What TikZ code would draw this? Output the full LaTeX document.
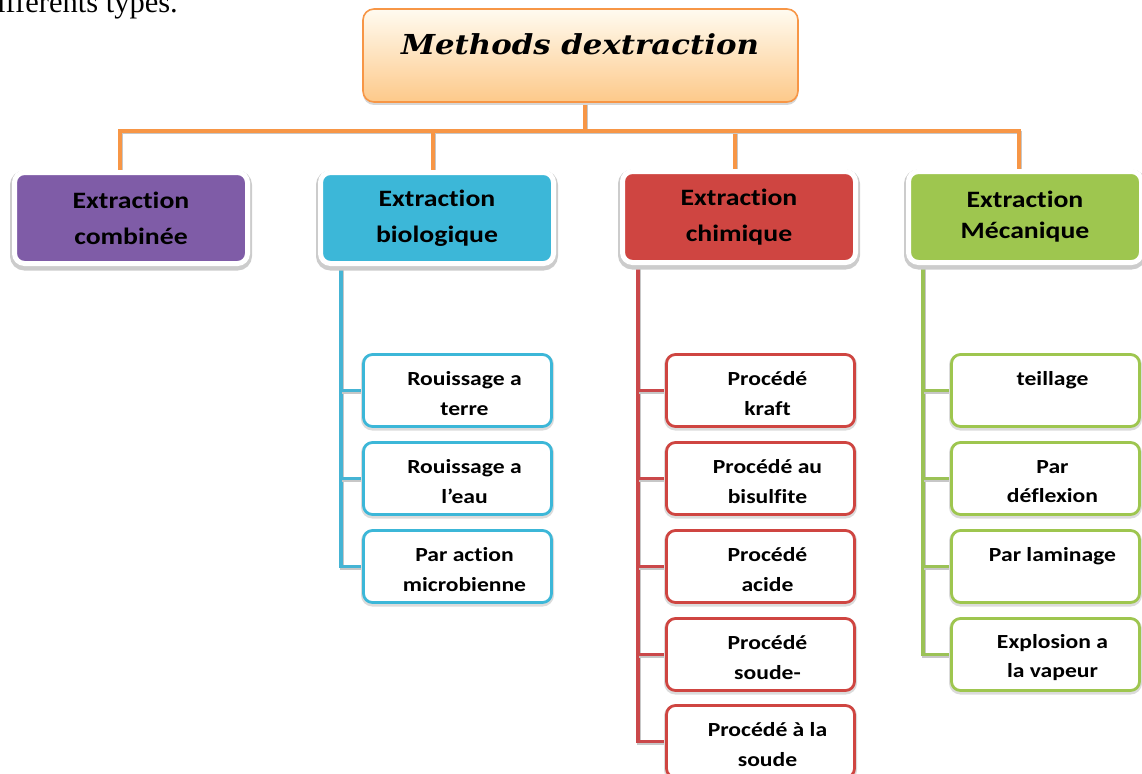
\documentclass[tikz,border=0pt]{standalone}
\usepackage{fontspec}
\setmainfont{Carlito}
\newfontfamily\titlefont[FakeStretch=1.12]{DejaVu Serif}
\newfontfamily\introfont{Liberation Serif}
\newfontfamily\boxfont[FakeStretch=1.18, Ligatures=NoCommon]{Carlito}
\usetikzlibrary{backgrounds}

\definecolor{hubline}{HTML}{F79646}
\definecolor{creamT}{HTML}{FFFBF0}
\definecolor{creamB}{HTML}{FDC98A}
\definecolor{purpleF}{HTML}{7F5CA7}
\definecolor{cyanF}{HTML}{3CB7D8}
\definecolor{redF}{HTML}{CF4541}
\definecolor{greenF}{HTML}{9EC64F}
\definecolor{cyanL}{HTML}{45B4D4}
\definecolor{redL}{HTML}{CA484A}
\definecolor{greenL}{HTML}{9BC256}

\tikzset{
  rootbox/.style={rounded corners=11pt, draw=hubline, line width=1.6pt,
    top color=creamT, bottom color=creamB, minimum width=435pt,
    minimum height=93pt, inner sep=0pt,
    preaction={fill=black!16, transform canvas={yshift=-3pt}}},
  catbox/.style={rounded corners=10pt, fill=#1, draw=white, line width=5pt,
    minimum width=233pt, minimum height=91pt, inner sep=0pt, align=center,
    font=\boxfont\bfseries\fontsize{23.5}{36}\selectfont,
    preaction={draw=black!20, line width=9pt, transform canvas={yshift=-2.5pt}}},
  leafbox/.style={rounded corners=9pt, fill=white, draw=#1, line width=2.8pt,
    minimum width=188pt, minimum height=72pt, inner sep=0pt,
    preaction={draw=black!14, line width=5pt, transform canvas={yshift=-1.5pt}}},
  leaftext/.style={inner sep=0pt, align=center,
    font=\boxfont\bfseries\fontsize{20}{29.5}\selectfont},
  link/.style={draw=#1, line width=3.4pt,
    preaction={draw=black!22, line width=3.4pt, transform canvas={shift={(1pt,-1.5pt)}}}},
}

% one child box with its label, the label set slightly right of centre
\newcommand\leaf[5]{%
  \node[leafbox=#2] (#1) at (#3,#4) {};
  \node[leaftext] (#1t) at ([xshift=7pt,yshift=-3pt]#1.center) {#5};}

\begin{document}
\begin{tikzpicture}[x=1pt,y=-1pt]
\useasboundingbox (0,0) rectangle (1142,773);
\clip (0,0) rectangle (1142,773);

% end of the preceding sentence
\node[font=\introfont\fontsize{30.5}{32}\selectfont, anchor=base east, inner sep=0pt]
  (intro) at (178,13) {différents types.};

% root
\node[rootbox] (root) at (580.5,55.5) {};
\node[font=\titlefont\bfseries\itshape\fontsize{27.5}{30}\selectfont, anchor=base, inner sep=0pt]
  (roottext) at (580,55) {Methods dextraction};

% categories
\node[catbox=purpleF] (comb) at (131,218) {Extraction\\combinée};
\node[catbox=cyanF]   (bio)  at (437,218) {Extraction\\biologique};
\node[catbox=redF]    (chim) at (739,217) {Extraction\\chimique};
\node[catbox=greenF, font=\boxfont\bfseries\fontsize{23.5}{31}\selectfont]
  (meca) at (1025,217) {Extraction\\Mécanique};

% biological methods
\leaf{b1}{cyanF}{457.5}{390.5}{Rouissage a\\terre}
\leaf{b2}{cyanF}{457.5}{478.5}{Rouissage a\\l’eau}
\leaf{b3}{cyanF}{457.5}{566.5}{Par action\\microbienne}

% chemical methods
\leaf{k1}{redF}{760.5}{390.5}{Procédé\\kraft}
\leaf{k2}{redF}{760.5}{478.5}{Procédé au\\bisulfite}
\leaf{k3}{redF}{760.5}{566.5}{Procédé\\acide}
\leaf{k4}{redF}{760.5}{654.5}{Procédé\\soude-}
\leaf{k5}{redF}{760.5}{741.5}{Procédé à la\\soude}

% mechanical methods
\leaf{m1}{greenF}{1045.5}{390.5}{teillage\\\mbox{}}
\leaf{m2}{greenF}{1045.5}{478.5}{Par\\déflexion}
\leaf{m3}{greenF}{1045.5}{566.5}{Par laminage\\\mbox{}}
\node[leafbox=greenF] (m4) at (1045.5,654.5) {};
\begin{scope}
  \clip (950,617) rectangle (1142,680);
  \node[leaftext] (m4t) at ([xshift=7pt,yshift=-3pt]m4.center) {Explosion a\\la vapeur};
\end{scope}

% connectors
\begin{scope}[on background layer]
  \coordinate (hub) at (585,131);
  \draw[link=hubline] ([xshift=4.5pt]root.south) -- (hub);
  \draw[link=hubline] (hub) -| ([xshift=-11pt]comb.north);
  \draw[link=hubline] (hub) -| ([xshift=-4pt]bio.north);
  \draw[link=hubline] (hub) -| ([xshift=-4pt]chim.north);
  \draw[link=hubline] (hub) -| ([xshift=-6pt]meca.north);

  \coordinate (bt) at (341,262);
  \draw[link=cyanL] (bt) |- (b3.west);
  \draw[link=cyanL] (bt |- b1.west) -- (b1.west);
  \draw[link=cyanL] (bt |- b2.west) -- (b2.west);

  \coordinate (kt) at (638,260);
  \draw[link=redL] (kt) |- (k5.west);
  \foreach \k in {k1,k2,k3,k4}
    \draw[link=redL] (kt |- \k.west) -- (\k.west);

  \coordinate (mt) at (923,260);
  \draw[link=greenL] (mt) |- (m4.west);
  \foreach \m in {m1,m2,m3}
    \draw[link=greenL] (mt |- \m.west) -- (\m.west);
\end{scope}
\end{tikzpicture}
\end{document}
